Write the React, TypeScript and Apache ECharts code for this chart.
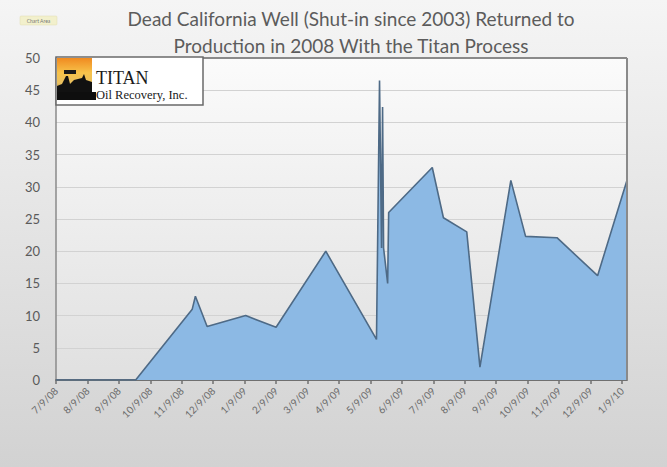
import React, { useEffect, useRef } from "react";
import * as echarts from "echarts";

const titleLines = [
  "Dead California Well (Shut-in since 2003) Returned to",
  "Production in 2008 With the Titan Process",
];
const tickLabels = [
  "7/9/08", "8/9/08", "9/9/08", "10/9/08", "11/9/08", "12/9/08", "1/9/09",
  "2/9/09", "3/9/09", "4/9/09", "5/9/09", "6/9/09", "7/9/09", "8/9/09",
  "9/9/09", "10/9/09", "11/9/09", "12/9/09", "1/9/10",
];
const sampleDates = [
  "2008-07-09", "2008-09-25", "2008-11-19", "2008-11-22", "2008-12-03",
  "2009-01-10", "2009-02-09", "2009-03-27", "2009-05-15", "2009-05-18",
  "2009-05-20", "2009-05-21", "2009-05-22", "2009-05-26", "2009-05-27",
  "2009-07-08", "2009-07-19", "2009-08-11", "2009-08-24", "2009-09-23",
  "2009-10-07", "2009-11-07", "2009-12-16", "2010-01-14",
];
const production = [
  0, 0, 11, 13, 8.3, 10, 8.2, 20, 6.3, 46.5, 20.5, 42.4, 20.5, 15, 26, 33,
  25.2, 23, 2, 31, 22.3, 22.1, 16.2, 31,
];
const axisEndDate = "2010-01-14";
const yTicks = [0, 5, 10, 15, 20, 25, 30, 35, 40, 45, 50];

// months elapsed since 7/9/08 (date axis with one tick per month)
function monthIndex(s: string): number {
  const [y, mo, d] = s.split("-").map(Number);
  const dim = new Date(y, mo, 0).getDate();
  return (y - 2008) * 12 + (mo - 7) + (d - 9) / dim;
}

export default function App() {
  const ref = useRef<HTMLDivElement>(null);
  useEffect(() => {
    document.body.style.margin = "0";
    const chart = echarts.init(ref.current!, null, { renderer: "svg" });
    const data = sampleDates.map((d, i) => [monthIndex(d), production[i]]);
    const tickIdx = tickLabels.map((_, i) => i);
    const L = 56, T = 58, R = 627, B = 380;
    chart.setOption({
      animation: false,
      title: {
        text: titleLines.join("\n"),
        left: 351,
        top: 4.5,
        padding: 0,
        textAlign: "center",
        textStyle: {
          fontFamily: "Lato",
          fontSize: 19,
          fontWeight: "normal",
          color: "#5c5c5c",
          lineHeight: 27,
        },
      },
      grid: { left: L, right: 667 - R, top: T, bottom: 467 - B, containLabel: false },
      xAxis: {
        type: "value",
        min: 0,
        max: monthIndex(axisEndDate),
        interval: 1,
        axisLine: { show: true, lineStyle: { color: "#707070", width: 2 } },
        axisTick: {
          show: true,
          length: 4,
          customValues: tickIdx,
          lineStyle: { color: "#707070", width: 1.5 },
        },
        axisLabel: {
          customValues: tickIdx,
          rotate: 45,
          margin: 9,
          fontFamily: "Lato",
          fontSize: 10,
          color: "#6a6a6a",
          formatter: (v: number) => tickLabels[Math.round(v)] ?? "",
        },
        splitLine: { show: false },
      },
      yAxis: {
        type: "value",
        min: yTicks[0],
        max: yTicks[yTicks.length - 1],
        interval: 5,
        axisLine: { show: true, lineStyle: { color: "#8a8a8a", width: 1.5 } },
        axisTick: { show: false },
        axisLabel: {
          margin: 16,
          fontFamily: "Lato",
          fontSize: 13,
          color: "#5a5a5a",
        },
        splitLine: { show: true, lineStyle: { color: "#d2d2d2", width: 1.2 } },
      },
      graphic: [
        {
          type: "rect",
          z: -20,
          silent: true,
          shape: { x: 0, y: 0, width: 667, height: 467 },
          style: {
            fill: new echarts.graphic.LinearGradient(0, 0, 0, 1, [
              { offset: 0, color: "#f5f5f5" },
              { offset: 1, color: "#d2d2d2" },
            ]),
          },
        },
        {
          type: "rect",
          z: -19,
          silent: true,
          shape: { x: L, y: T, width: R - L, height: B - T },
          style: {
            fill: new echarts.graphic.LinearGradient(0, 0, 0, 1, [
              { offset: 0, color: "#fbfbfb" },
              { offset: 1, color: "#e0e0e0" },
            ]),
          },
        },
        {
          type: "line",
          z: 5,
          silent: true,
          shape: { x1: L, y1: T, x2: R, y2: T },
          style: { stroke: "#8a8a8a", lineWidth: 2 },
        },
        {
          type: "line",
          z: 5,
          silent: true,
          shape: { x1: R, y1: T, x2: R, y2: B },
          style: { stroke: "#8a8a8a", lineWidth: 2 },
        },
        {
          type: "group",
          z: 50,
          children: [
            {
              type: "rect",
              z: 50,
              shape: { x: 20, y: 16, width: 37, height: 9, r: 1 },
              style: { fill: "#f2f0cc", stroke: "#e0ddb0", lineWidth: 0.5 },
            },
            {
              type: "text",
              z: 51,
              x: 38.5,
              y: 20.5,
              style: {
                text: "Chart Area",
                fontSize: 5,
                fontFamily: "Lato",
                fill: "#777",
                align: "center",
                verticalAlign: "middle",
              },
            },
          ],
        },
        {
          type: "group",
          z: 60,
          children: [
            {
              type: "rect",
              z: 60,
              shape: { x: 56, y: 57, width: 147, height: 48 },
              style: { fill: "#ffffff", stroke: "#6a6a6a", lineWidth: 1.5 },
            },
            {
              type: "rect",
              z: 61,
              shape: { x: 57, y: 58, width: 35, height: 42 },
              style: {
                fill: new echarts.graphic.LinearGradient(0, 0, 0, 1, [
                  { offset: 0, color: "#f08a20" },
                  { offset: 0.35, color: "#f7c24a" },
                  { offset: 0.6, color: "#e9c060" },
                  { offset: 1, color: "#2a2010" },
                ]),
              },
            },
            {
              type: "polygon",
              z: 62,
              shape: {
                points: [
                  [57, 100], [57, 86], [62, 84], [66, 76], [68, 76], [70, 84],
                  [74, 80], [82, 78], [84, 74], [86, 80], [92, 82], [92, 100],
                ],
              },
              style: { fill: "#111" },
            },
            {
              type: "rect",
              z: 62,
              shape: { x: 64, y: 70, width: 12, height: 4 },
              style: { fill: "#1a1a1a" },
            },
            {
              type: "rect",
              z: 62,
              shape: { x: 57, y: 92, width: 39, height: 8 },
              style: { fill: "#0e0e0e" },
            },
            {
              type: "text",
              z: 63,
              x: 96,
              y: 87,
              style: {
                text: "TITAN",
                fontFamily: "Liberation Serif",
                fontSize: 18,
                fill: "#1a1a1a",
                verticalAlign: "bottom",
              },
            },
            {
              type: "text",
              z: 63,
              x: 96,
              y: 101,
              style: {
                text: "Oil Recovery, Inc.",
                fontFamily: "Liberation Serif",
                fontSize: 12.5,
                fill: "#1a1a1a",
                verticalAlign: "bottom",
              },
            },
          ],
        },
      ],
      series: [
        {
          type: "line",
          data,
          showSymbol: false,
          symbol: "none",
          lineStyle: { color: "#4e6a86", width: 1.6 },
          areaStyle: { color: "#8cb9e4", opacity: 1 },
          z: 3,
        },
      ],
    });
    return () => chart.dispose();
  }, []);
  return <div ref={ref} style={{ width: 667, height: 467 }} />;
}
